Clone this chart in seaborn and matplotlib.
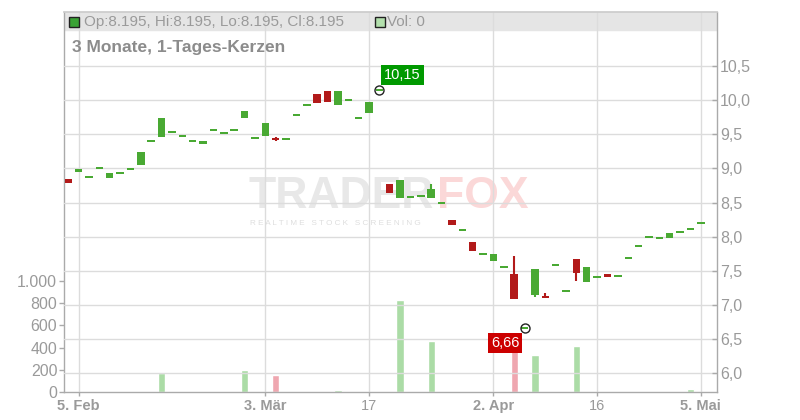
import numpy as np
import pandas as pd
import matplotlib.pyplot as plt
import matplotlib.patches as mpatches
import seaborn as sns

# --- Kursdaten (3 Monate, Tageskerzen) ---
opens = [8.84, 8.95, 8.88, 9.01, 8.86, 8.94, 8.985, 9.05, 9.40, 9.46,
         9.54, 9.48, 9.40, 9.38, 9.565, 9.525, 9.565, 9.735, 9.44, 9.475,
         9.43, 9.435, 9.78, 9.935, 10.095, 10.13, 9.925, 10.0, 9.74, 9.81,
         10.15, 8.765, 8.565, 8.585, 8.575, 8.565, 8.495, 8.25, 8.095, 7.925,
         7.745, 7.65, 7.555, 7.455, 6.66, 7.15, 7.135, 7.585, 7.2, 7.675,
         7.33, 7.41, 7.455, 7.42, 7.685, 7.865, 8.0, 7.985, 7.98, 8.07,
         8.12, 8.195]
closes = [8.785, 8.99, 8.88, 9.01, 8.94, 8.94, 8.985, 9.235, 9.40, 9.745,
          9.54, 9.48, 9.40, 9.38, 9.565, 9.525, 9.565, 9.835, 9.44, 9.66,
          9.40, 9.435, 9.78, 9.935, 9.955, 9.98, 10.14, 10.0, 9.74, 9.975,
          10.15, 8.635, 8.835, 8.585, 8.615, 8.705, 8.495, 8.165, 8.095, 7.795,
          7.745, 7.75, 7.555, 7.09, 6.66, 7.525, 7.10, 7.585, 7.2, 7.475,
          7.56, 7.41, 7.415, 7.42, 7.685, 7.865, 8.0, 7.985, 8.06, 8.07,
          8.12, 8.195]
highs = [8.84, 8.99, 8.88, 9.01, 8.94, 8.94, 8.985, 9.235, 9.40, 9.745,
         9.54, 9.48, 9.40, 9.38, 9.565, 9.525, 9.565, 9.835, 9.44, 9.66,
         9.455, 9.435, 9.78, 9.935, 10.095, 10.13, 10.14, 10.0, 9.74, 9.975,
         10.15, 8.765, 8.835, 8.585, 8.615, 8.765, 8.495, 8.25, 8.095, 7.925,
         7.745, 7.75, 7.555, 7.72, 6.66, 7.525, 7.17, 7.585, 7.2, 7.675,
         7.56, 7.41, 7.455, 7.42, 7.685, 7.865, 8.0, 7.985, 8.06, 8.07,
         8.12, 8.195]
lows = [8.785, 8.95, 8.88, 9.01, 8.86, 8.94, 8.985, 9.05, 9.40, 9.46,
        9.54, 9.48, 9.40, 9.38, 9.565, 9.525, 9.565, 9.735, 9.44, 9.475,
        9.40, 9.435, 9.78, 9.935, 9.955, 9.98, 9.925, 10.0, 9.74, 9.81,
        10.15, 8.635, 8.565, 8.585, 8.575, 8.565, 8.495, 8.165, 8.095, 7.795,
        7.745, 7.65, 7.555, 7.09, 6.66, 7.12, 7.10, 7.585, 7.2, 7.355,
        7.33, 7.41, 7.415, 7.42, 7.685, 7.865, 8.0, 7.985, 7.98, 8.07,
        8.12, 8.195]
volumes = [0, 0, 0, 0, 0, 0, 0, 0, 0, 170,
           0, 0, 0, 0, 0, 0, 0, 200, 0, 0,
           155, 0, 0, 0, 0, 0, 20, 0, 0, 0,
           0, 0, 830, 0, 0, 460, 0, 0, 0, 0,
           0, 0, 0, 400, 0, 335, 0, 0, 0, 415,
           0, 0, 0, 0, 0, 0, 0, 0, 0, 0,
           30, 0]

date_tick_pos = [1, 19, 29, 41, 51, 61]
date_tick_labels = ['5. Feb', '3. Mär', '17', '2. Apr', '16', '5. Mai']
price_ticks = [6.0, 6.5, 7.0, 7.5, 8.0, 8.5, 9.0, 9.5, 10.0, 10.5]
volume_ticks = [0, 200, 400, 600, 800, 1000]

GREEN = '#49a933'
RED = '#b21a1a'
VOL_UP = '#abdca6'
VOL_DOWN = '#efa7b0'
GRID = '#dcdcdc'
TXT = '#9a9a9a'

sns.set_theme(style='white')
plt.rcParams['font.family'] = ['Liberation Sans', 'DejaVu Sans']

df = pd.DataFrame({'open': opens, 'close': closes, 'high': highs,
                   'low': lows, 'volume': volumes})
df['idx'] = np.arange(len(df))
df['up'] = df['close'] >= df['open']
prev_close = df['close'].shift(1).fillna(df['close'])
df['vdir'] = np.where(df['close'] >= prev_close, 'up', 'down')

W, H = 800, 420
fig = plt.figure(figsize=(8, 4.2), dpi=100)
ax = fig.add_axes([63.5 / W, 1 - 392.3 / H, (716.7 - 63.5) / W, (392.3 - 11.7) / H])
ax2 = ax.twinx()

# --- Kopfzeile (grauer Balken) ---
ax.add_patch(mpatches.Rectangle((0, 1 - 18.3 / 380.6), 1, 18.3 / 380.6,
                                transform=ax.transAxes, color='#e5e5e5', zorder=0))

# --- Wasserzeichen ---
ax.text(0.2825, 0.4855, 'TRADER', transform=ax.transAxes, fontsize=32,
        fontweight='bold', color='#e8e8e8', ha='left', va='baseline', zorder=0.2)
ax.text(0.572, 0.4855, 'FOX', transform=ax.transAxes, fontsize=32,
        fontweight='bold', color='#fbd8d8', ha='left', va='baseline', zorder=0.2)
ax.text(0.285, 0.444, 'R E A L T I M E   S T O C K   S C R E E N I N G',
        transform=ax.transAxes, fontsize=5.9, color='#dedede',
        ha='left', va='center', zorder=0.2)

# --- Volumen ---
sns.barplot(data=df, x='idx', y='volume', hue='vdir',
            palette={'up': VOL_UP, 'down': VOL_DOWN}, native_scale=True,
            dodge=False, width=0.7, saturation=1, errorbar=None,
            legend=False, ax=ax, zorder=1)

# --- Kerzen ---
colors = np.where(df['up'], GREEN, RED)
ax2.vlines(df['idx'], df['low'], df['high'], colors=colors, lw=1.5, zorder=3)
diff = (df['close'] - df['open']).abs()
body_h = np.maximum(diff, 0.03)
body_b = np.where(diff < 0.03, df['open'] - 0.015, df[['open', 'close']].min(axis=1))
ax2.bar(df['idx'], body_h, bottom=body_b, width=0.72, color=colors,
        linewidth=0, zorder=4)

# Hoch / Tief
i_hi = int(df['high'].idxmax())
i_lo = int(df['low'].idxmin())
ax2.plot([i_hi, i_lo], [df['high'][i_hi], df['low'][i_lo]], 'o', ms=6.5,
         mfc='none', mec='#222222', mew=1, zorder=5)
ax2.annotate(f"{df['high'][i_hi]:.2f}".replace('.', ','), (i_hi, df['high'][i_hi]),
             xytext=(5, 8), textcoords='offset pixels', ha='left', va='bottom',
             fontsize=10.5, color='white',
             bbox=dict(boxstyle='square,pad=0.2', fc='#009900', ec='none'), zorder=6)
ax2.annotate(f"{df['low'][i_lo]:.2f}".replace('.', ','), (i_lo, df['low'][i_lo]),
             xytext=(-5, -8), textcoords='offset pixels', ha='right', va='top',
             fontsize=10.5, color='white',
             bbox=dict(boxstyle='square,pad=0.2', fc='#cc0000', ec='none'), zorder=6)

# --- Achsen ---
ax.set_xlim(-0.46, 62.53)
ax.set_ylim(0, 3410)
ax2.set_ylim(5.722, 11.295)

ax.set_xticks(date_tick_pos)
ax.set_xticklabels(date_tick_labels)
for lab in ax.get_xticklabels():
    if '.' in lab.get_text():
        lab.set_fontweight('bold')
ax.set_yticks(volume_ticks)
ax.set_yticklabels([f"{v:,}".replace(',', '.') for v in volume_ticks])
ax2.set_yticks(price_ticks)
ax2.set_yticklabels([f"{p:.1f}".replace('.', ',') for p in price_ticks])
ax.set_xlabel('')
ax.set_ylabel('')

ax.tick_params(axis='x', direction='out', length=3, width=1, color='#aaaaaa',
               labelcolor=TXT, labelsize=10.5, pad=2, bottom=True)
ax.tick_params(axis='y', direction='out', length=3.5, width=1, color='#aaaaaa',
               labelcolor=TXT, labelsize=11.5, pad=1, left=True)
ax2.tick_params(axis='y', direction='in', length=3.5, width=1, color='#aaaaaa',
                labelcolor=TXT, labelsize=11.5, pad=2.5, right=True)

ax.set_axisbelow(True)
ax.grid(axis='x', color=GRID, lw=1)
ax.grid(axis='y', visible=False)
ax2.grid(axis='y', color=GRID, lw=1, zorder=0.5)
ax2.set_axisbelow(True)

for s in ['left', 'bottom', 'right']:
    ax.spines[s].set_color('#aaaaaa')
    ax.spines[s].set_linewidth(1)
ax.spines['top'].set_color('#cccccc')
for s in ax2.spines.values():
    s.set_visible(False)

# --- Legende / Titel oben ---
def px(x, y):
    return x / W, 1 - y / H

fig.patches.append(mpatches.Rectangle(px(68.5, 26.7), 10 / W, 10 / H,
                                      transform=fig.transFigure, fc='#3aa335',
                                      ec='#222222', lw=1))
fig.text(*px(84, 21.8), f"Op:{opens[-1]:.3f}, Hi:{highs[-1]:.3f}, "
         f"Lo:{lows[-1]:.3f}, Cl:{closes[-1]:.3f}",
         fontsize=11, color=TXT, ha='left', va='center')
fig.patches.append(mpatches.Rectangle(px(374.5, 26.7), 10 / W, 10 / H,
                                      transform=fig.transFigure, fc='#b3e0ad',
                                      ec='#222222', lw=1))
fig.text(*px(387, 21.8), f"Vol: {volumes[-1]}", fontsize=11, color=TXT,
         ha='left', va='center')
fig.text(*px(72, 47.5), '3 Monate, 1-Tages-Kerzen', fontsize=12.5,
         fontweight='bold', color='#8c8c8c', ha='left', va='center')

plt.savefig('out.png', dpi=100)
plt.close()
